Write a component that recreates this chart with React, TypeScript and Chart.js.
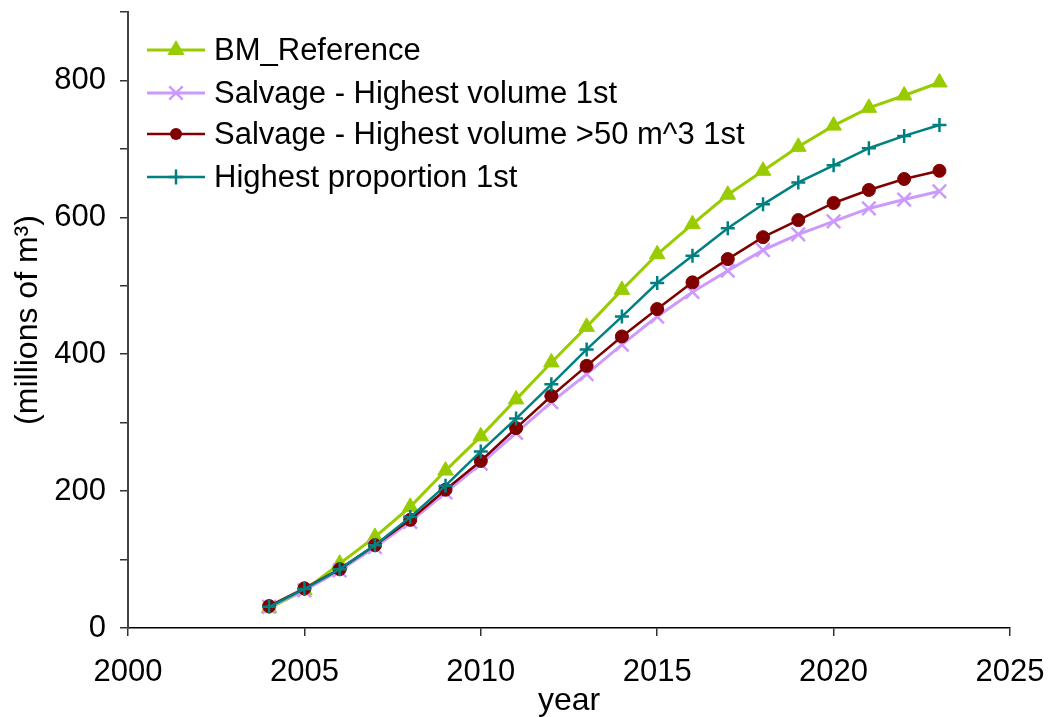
import React, { useEffect, useRef } from "react";
import { Chart, registerables } from "chart.js";

Chart.register(...registerables);

// Cumulative volume by year, millions of m³
const years = [2004, 2005, 2006, 2007, 2008, 2009, 2010, 2011, 2012, 2013, 2014, 2015, 2016, 2017, 2018, 2019, 2020, 2021, 2022, 2023];
const bmReference = [29, 55, 94, 133, 177, 230, 280, 334, 388, 440, 494, 546, 590, 633, 668, 703, 734, 760, 778, 797];
const salvageHighestVolume = [31, 55, 84, 118, 155, 198, 240, 285, 330, 371, 414, 455, 491, 522, 552, 575, 594, 613, 626, 638];
const salvageHighestVolume50 = [32, 58, 86, 121, 158, 202, 244, 292, 339, 383, 426, 466, 505, 539, 571, 596, 621, 640, 656, 668];
const highestProportion = [31, 57, 86, 121, 162, 208, 258, 306, 356, 407, 455, 504, 544, 584, 619, 651, 676, 701, 719, 735];

const yLabelValues = [0, 200, 400, 600, 800];

const FONT = "'Liberation Sans', Arial, sans-serif";

type SeriesDef = {
  label: string;
  data: number[];
  color: string;
  style: "triangle" | "crossRot" | "circle" | "cross";
  radius: number;
  legendRadius: number;
  lineWidth: number;
  markerWidth: number;
  order: number;
};

const series: SeriesDef[] = [
  { label: "BM_Reference", data: bmReference, color: "#99cc00", style: "triangle", radius: 9, legendRadius: 10, lineWidth: 3, markerWidth: 1, order: 4 },
  { label: "Salvage - Highest volume 1st", data: salvageHighestVolume, color: "#cc99ff", style: "crossRot", radius: 9.5, legendRadius: 9.5, lineWidth: 3, markerWidth: 2.5, order: 3 },
  { label: "Salvage - Highest volume >50 m^3 1st", data: salvageHighestVolume50, color: "#800000", style: "circle", radius: 6.5, legendRadius: 6, lineWidth: 2.5, markerWidth: 1, order: 2 },
  { label: "Highest proportion 1st", data: highestProportion, color: "#008080", style: "cross", radius: 7, legendRadius: 7.5, lineWidth: 2.5, markerWidth: 2.5, order: 1 },
];

function drawMarker(ctx: CanvasRenderingContext2D, s: SeriesDef, x: number, y: number, r: number) {
  ctx.save();
  ctx.fillStyle = s.color;
  ctx.strokeStyle = s.color;
  ctx.lineWidth = s.markerWidth;
  ctx.beginPath();
  if (s.style === "triangle") {
    const h = Math.sin(Math.PI / 3) * r;
    ctx.moveTo(x, y - r);
    ctx.lineTo(x + h, y + r / 2);
    ctx.lineTo(x - h, y + r / 2);
    ctx.closePath();
    ctx.fill();
  } else if (s.style === "circle") {
    ctx.arc(x, y, r, 0, Math.PI * 2);
    ctx.fill();
  } else if (s.style === "crossRot") {
    const d = r * Math.SQRT1_2;
    ctx.moveTo(x - d, y - d);
    ctx.lineTo(x + d, y + d);
    ctx.moveTo(x - d, y + d);
    ctx.lineTo(x + d, y - d);
    ctx.stroke();
  } else {
    ctx.moveTo(x - r, y);
    ctx.lineTo(x + r, y);
    ctx.moveTo(x, y - r);
    ctx.lineTo(x, y + r);
    ctx.stroke();
  }
  ctx.restore();
}

// Legend with a line sample and marker for each series, inside the plot's top-left corner
const legendPlugin = {
  id: "lineLegend",
  afterDraw(chart: any) {
    const ctx: CanvasRenderingContext2D = chart.ctx;
    const x0 = 147;
    const x1 = 205;
    const textX = 214;
    const rows = [50, 93, 134, 177];
    ctx.save();
    ctx.font = `31px ${FONT}`;
    ctx.textBaseline = "middle";
    series.forEach((s, i) => {
      const y = rows[i];
      ctx.strokeStyle = s.color;
      ctx.lineWidth = s.lineWidth;
      ctx.beginPath();
      ctx.moveTo(x0, y);
      ctx.lineTo(x1, y);
      ctx.stroke();
      drawMarker(ctx, s, (x0 + x1) / 2, y, s.legendRadius);
      ctx.fillStyle = "#000";
      ctx.fillText(s.label, textX, y + 1);
    });
    ctx.restore();
  },
};

function zeroPadding(scale: any) {
  scale.paddingTop = 0;
  scale.paddingBottom = 0;
  scale.paddingLeft = 0;
  scale.paddingRight = 0;
}

export default function App() {
  const canvasRef = useRef<HTMLCanvasElement | null>(null);

  useEffect(() => {
    const canvas = canvasRef.current;
    if (!canvas) return;
    const chart = new Chart(canvas, {
      type: "line",
      data: {
        datasets: series.map((s) => ({
          label: s.label,
          data: years.map((yr, i) => ({ x: yr, y: s.data[i] })),
          borderColor: s.color,
          backgroundColor: s.color,
          borderWidth: s.lineWidth,
          pointStyle: s.style,
          pointRadius: s.radius,
          pointBorderWidth: s.markerWidth,
          pointBorderColor: s.color,
          pointBackgroundColor: s.color,
          tension: 0,
          fill: false,
          order: s.order,
        })),
      },
      options: {
        animation: false,
        responsive: false,
        devicePixelRatio: 1,
        layout: { padding: { top: 10, right: 39, left: 0, bottom: 0 } },
        plugins: {
          legend: { display: false },
          tooltip: { enabled: false },
        },
        scales: {
          x: {
            type: "linear",
            min: 2000,
            max: 2025,
            afterFit: (scale: any) => {
              scale.height = 89;
              zeroPadding(scale);
            },
            ticks: {
              stepSize: 5,
              color: "#000",
              font: { family: FONT, size: 31 },
              padding: 18,
              maxRotation: 0,
              callback: (v: any) => String(v),
            },
            grid: {
              drawOnChartArea: false,
              drawTicks: true,
              tickLength: 8,
              color: "#333",
              lineWidth: 1.5,
            },
            border: { display: true, color: "#000", width: 1.5 },
            title: {
              display: true,
              text: "year",
              color: "#000",
              font: { family: FONT, size: 32, lineHeight: 1.1 },
              padding: { top: 0, bottom: -2 },
            },
          },
          y: {
            min: 0,
            max: 900,
            afterFit: (scale: any) => {
              scale.width = 128;
              zeroPadding(scale);
            },
            ticks: {
              stepSize: 100,
              color: "#000",
              font: { family: FONT, size: 31 },
              padding: 14,
              callback: (v: any) => (yLabelValues.includes(Number(v)) ? String(v) : ""),
            },
            grid: {
              drawOnChartArea: false,
              drawTicks: true,
              tickLength: 8,
              color: "#333",
              lineWidth: 1.5,
            },
            border: { display: true, color: "#444", width: 2 },
            title: {
              display: true,
              text: "(millions of m³)",
              color: "#000",
              font: { family: FONT, size: 32, lineHeight: 1.2 },
              padding: { top: 9, bottom: 0 },
            },
          },
        },
      },
      plugins: [legendPlugin],
    });
    return () => chart.destroy();
  }, []);

  return (
    <div style={{ position: "fixed", left: 0, top: 0, width: 1049, height: 717, background: "#fff" }}>
      <canvas ref={canvasRef} width={1049} height={717} style={{ display: "block" }} />
    </div>
  );
}
